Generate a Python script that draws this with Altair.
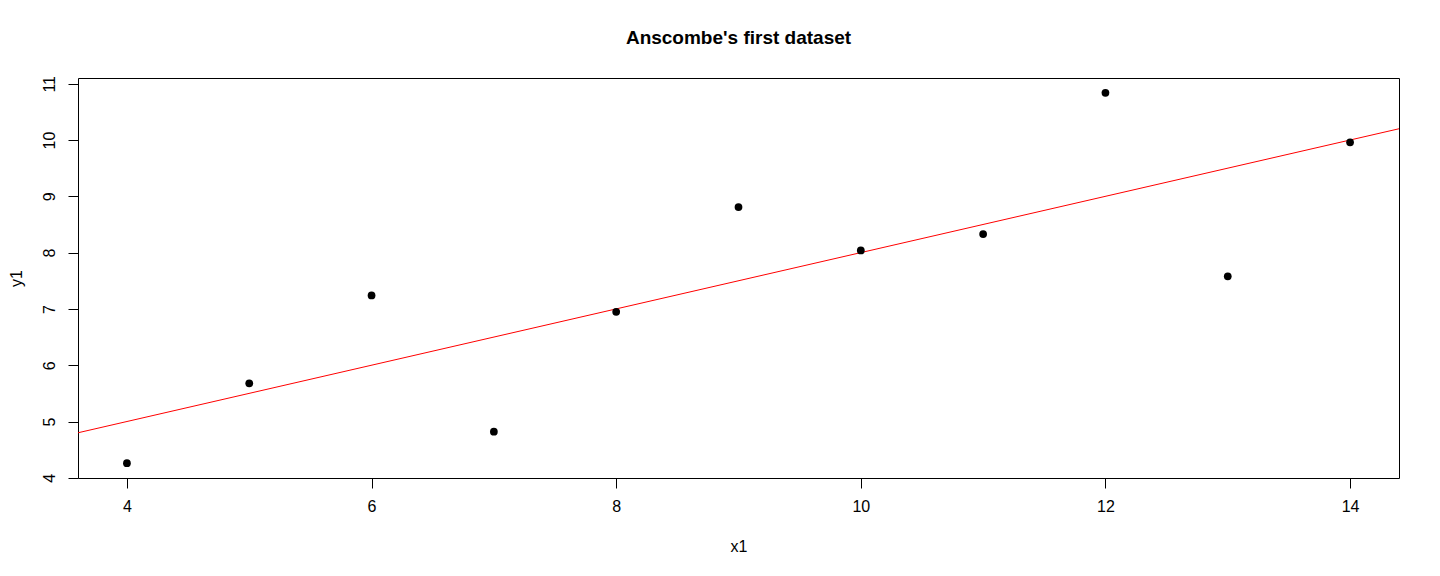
import altair as alt
import pandas as pd

# Anscombe's quartet, first dataset
x1 = [10, 8, 13, 9, 11, 14, 6, 4, 12, 7, 5]
y1 = [8.04, 6.95, 7.58, 8.81, 8.33, 9.96, 7.24, 4.26, 10.84, 4.82, 5.68]

x_ticks = [4, 6, 8, 10, 12, 14]
y_ticks = [4, 5, 6, 7, 8, 9, 10, 11]

df = pd.DataFrame({"x1": x1, "y1": y1})


# R-style 4% range extension
def r_range(v):
    lo, hi = min(v), max(v)
    pad = (hi - lo) * 0.04
    return [lo - pad, hi + pad]


x_dom = r_range(x1)
y_dom = r_range(y1)

FONT = "Liberation Sans"

x_axis = alt.Axis(
    values=x_ticks, grid=False, domain=False, ticks=True, tickSize=10,
    tickColor="black", labelFontSize=16, labelColor="black", labelPadding=10,
    labelFont=FONT, titleFont=FONT, titleFontSize=16, titleFontWeight="normal",
    titleColor="black", titleY=73, titleBaseline="alphabetic",
)
y_axis = alt.Axis(
    values=y_ticks, grid=False, domain=False, ticks=True, tickSize=10,
    tickColor="black", labelFontSize=16, labelColor="black", labelPadding=14,
    labelAngle=270, labelAlign="center", labelBaseline="alphabetic",
    labelFont=FONT, titleFont=FONT, titleFontSize=16, titleFontWeight="normal",
    titleColor="black", titleX=-57, titleBaseline="alphabetic",
)

x_enc = alt.X("x1:Q", scale=alt.Scale(domain=x_dom, nice=False, zero=False), axis=x_axis, title="x1")
y_enc = alt.Y("y1:Q", scale=alt.Scale(domain=y_dom, nice=False, zero=False), axis=y_axis, title="y1")

base = alt.Chart(df)

points = base.mark_circle(color="black", opacity=1, size=60).encode(x=x_enc, y=y_enc)

fit = base.transform_regression(
    "x1", "y1", extent=x_dom
).mark_line(color="red", strokeWidth=1, clip=True).encode(x=x_enc, y=y_enc)

chart = alt.layer(fit, points).properties(
    width=1321,
    height=400,
    title=alt.TitleParams(
        "Anscombe's first dataset", font=FONT, fontSize=19, fontWeight="bold",
        color="black", anchor="middle", offset=28,
    ),
    autosize=alt.AutoSizeParams(type="none"),
    padding={"left": 70, "top": 70, "right": 33, "bottom": 90},
).configure_view(
    stroke="black", strokeWidth=1, strokeOpacity=1
)

chart.save("out.html", embed_options={"renderer": "svg", "actions": False})
